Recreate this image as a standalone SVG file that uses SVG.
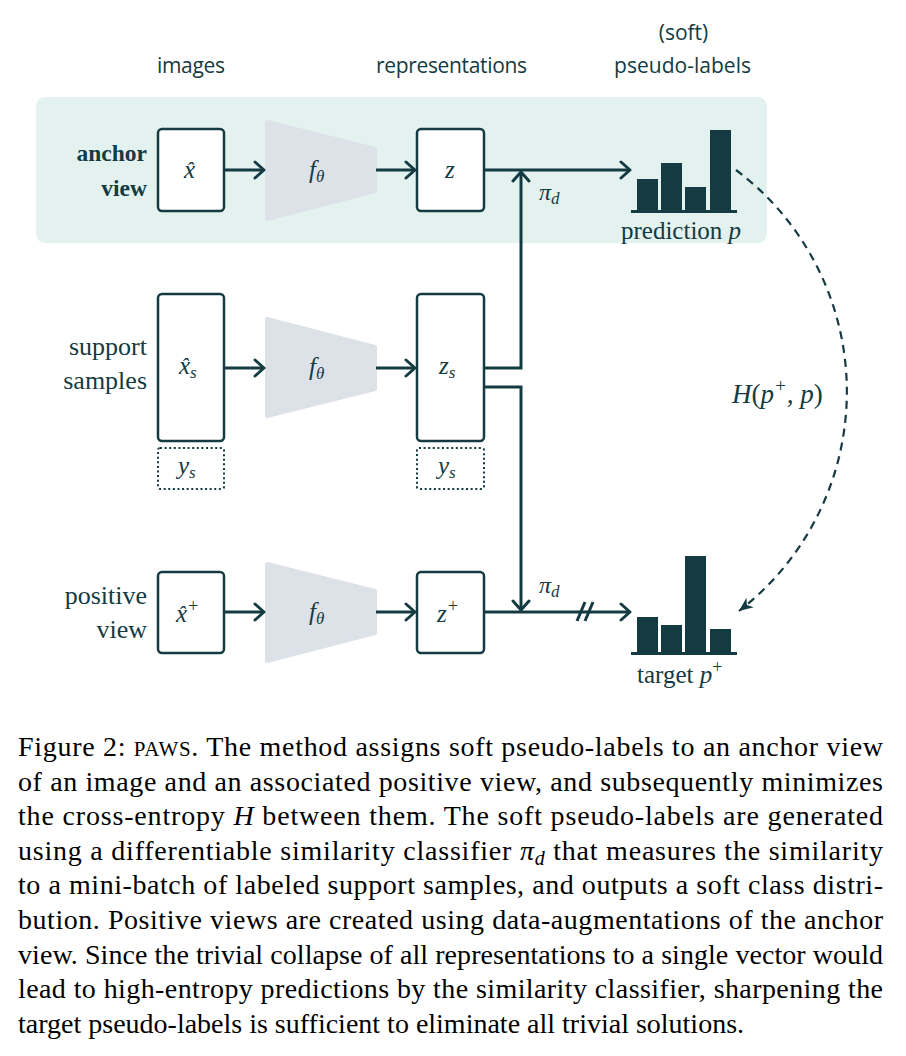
<svg xmlns="http://www.w3.org/2000/svg" width="906" height="1056" viewBox="0 0 906 1056">
<style>
.box{fill:#fff;stroke:#143a42;stroke-width:2.5}
.dot{fill:none;stroke:#143a42;stroke-width:2;stroke-dasharray:2 2.6}
.trap{fill:#dde1e8;stroke:#dde1e8;stroke-width:4;stroke-linejoin:round}
.ln{fill:none;stroke:#143a42;stroke-width:3}
.arr{fill:none;stroke:#143a42;stroke-width:3;marker-end:url(#chev)}
.hdr{font-family:"Open Sans","Lato",sans-serif;font-size:21px;fill:#143a42;text-anchor:middle}
.lbl{font-family:"Liberation Serif",serif;font-size:26px;fill:#143a42;text-anchor:end}
.mi{font-family:"Liberation Serif",serif;font-style:italic;font-size:25px;fill:#143a42}
.rm{font-family:"Liberation Serif",serif;font-size:25px;fill:#143a42}
.cap{font-family:"Liberation Serif",serif;font-size:28px;fill:#000}
.bar{fill:#143a42}
</style>
<defs>
<marker id="chev" markerUnits="userSpaceOnUse" markerWidth="20" markerHeight="20" viewBox="-12 -10 14 20" refX="0" refY="0" orient="auto">
<path d="M-9,-8 L0,0 L-9,8" fill="none" stroke="#143a42" stroke-width="3" stroke-linecap="round" stroke-linejoin="round"/>
</marker>
<marker id="stealth" markerUnits="userSpaceOnUse" markerWidth="20" markerHeight="20" viewBox="-16 -10 18 20" refX="0" refY="0" orient="auto">
<path d="M0,0 L-14,-6 L-10,0 L-14,6 Z" fill="#143a42"/>
</marker>
</defs>

<rect id="anchor-panel" x="36" y="97" width="731" height="146" rx="9" fill="#e3f2ef"/>

<g id="headers">
<text class="hdr" x="191" y="73" textLength="68">images</text>
<text class="hdr" x="451.5" y="73" textLength="151">representations</text>
<text class="hdr" x="683.5" y="40">(soft)</text>
<text class="hdr" x="682.5" y="73" textLength="137">pseudo-labels</text>
</g>

<g id="row-labels">
<text class="lbl" x="147" y="161" style="font-weight:bold;font-size:23.5px">anchor</text>
<text class="lbl" x="147" y="196" style="font-weight:bold;font-size:23.5px">view</text>
<text class="lbl" x="147" y="355">support</text>
<text class="lbl" x="147" y="389">samples</text>
<text class="lbl" x="147" y="604">positive</text>
<text class="lbl" x="147" y="638">view</text>
</g>

<g id="node-x-anchor">
<rect class="box" x="158" y="129" width="66" height="82" rx="4"/>
<text class="mi" x="184" y="178">x</text><text class="mi" x="186" y="177" style="font-size:22px">ˆ</text>
</g>
<g id="node-f-anchor">
<path class="trap" d="M267,122 L375,149 L375,191 L267,219 Z"/>
<text class="mi" x="309" y="178">f<tspan font-size="17" dy="4">θ</tspan></text>
</g>
<g id="node-z-anchor">
<rect class="box" x="417" y="129" width="67" height="82" rx="4"/>
<text class="mi" x="445" y="178">z</text>
</g>

<g id="node-x-support">
<rect class="box" x="158" y="294" width="66" height="147" rx="4"/>
<text class="mi" x="179" y="374">x<tspan font-size="17" dy="4">s</tspan></text><text class="mi" x="181" y="373" style="font-size:22px">ˆ</text>
</g>
<g id="node-y-support-1">
<rect class="dot" x="158" y="448" width="66" height="41" rx="2"/>
<text class="mi" x="178" y="474">y<tspan font-size="17" dy="4">s</tspan></text>
</g>
<g id="node-f-support">
<path class="trap" d="M267,319 L375,347 L375,389 L267,416 Z"/>
<text class="mi" x="309" y="375">f<tspan font-size="17" dy="4">θ</tspan></text>
</g>
<g id="node-z-support">
<rect class="box" x="417" y="294" width="67" height="147" rx="4"/>
<text class="mi" x="439" y="374">z<tspan font-size="17" dy="4">s</tspan></text>
</g>
<g id="node-y-support-2">
<rect class="dot" x="417" y="448" width="67" height="41" rx="2"/>
<text class="mi" x="438" y="474">y<tspan font-size="17" dy="4">s</tspan></text>
</g>

<g id="node-x-positive">
<rect class="box" x="158" y="572" width="66" height="81" rx="4"/>
<text class="mi" x="176" y="622">x<tspan font-size="18" dy="-10">+</tspan></text><text class="mi" x="178" y="621" style="font-size:22px">ˆ</text>
</g>
<g id="node-f-positive">
<path class="trap" d="M267,564 L375,591 L375,633 L267,661 Z"/>
<text class="mi" x="309" y="620">f<tspan font-size="17" dy="4">θ</tspan></text>
</g>
<g id="node-z-positive">
<rect class="box" x="417" y="572" width="67" height="81" rx="4"/>
<text class="mi" x="437" y="622">z<tspan font-size="18" dy="-10">+</tspan></text>
</g>

<g id="node-prediction">
<rect class="bar" x="637" y="179" width="21" height="32"/>
<rect class="bar" x="661" y="163" width="21" height="48"/>
<rect class="bar" x="685" y="187" width="21" height="24"/>
<rect class="bar" x="710" y="130" width="21" height="81"/>
<rect class="bar" x="631" y="210" width="106" height="3"/>
<text class="rm" x="621" y="239">prediction <tspan font-style="italic">p</tspan></text>
</g>

<g id="node-target">
<rect class="bar" x="637" y="617" width="21" height="36"/>
<rect class="bar" x="661" y="625" width="21" height="28"/>
<rect class="bar" x="685" y="556" width="21" height="97"/>
<rect class="bar" x="710" y="629" width="21" height="24"/>
<rect class="bar" x="631" y="652" width="106" height="3"/>
<text class="rm" x="637" y="683">target <tspan font-style="italic">p</tspan><tspan font-size="18" dy="-10">+</tspan></text>
</g>

<g id="connectors">
<line class="arr" x1="224" y1="170" x2="264" y2="170"/>
<line class="arr" x1="376" y1="170" x2="415" y2="170"/>
<line class="arr" x1="484" y1="170" x2="630" y2="170"/>
<line class="arr" x1="224" y1="368" x2="264" y2="368"/>
<line class="arr" x1="376" y1="368" x2="415" y2="368"/>
<line class="arr" x1="224" y1="612" x2="264" y2="612"/>
<line class="arr" x1="376" y1="612" x2="415" y2="612"/>
<line class="arr" x1="484" y1="612" x2="630" y2="612"/>
<path class="arr" d="M484,368 L521,368 L521,172"/>
<path class="arr" d="M484,387 L521,387 L521,610"/>
<line class="ln" x1="577" y1="621" x2="585" y2="602" stroke-width="2"/>
<line class="ln" x1="585" y1="621" x2="593" y2="602" stroke-width="2"/>
<path d="M736,170 A277,277 0 0 1 739,611" fill="none" stroke="#143a42" stroke-width="2.2" stroke-dasharray="8 6" marker-end="url(#stealth)"/>
<text class="mi" x="539" y="200" style="font-size:24px">π<tspan font-size="17" dy="4">d</tspan></text>
<text class="mi" x="539" y="593" style="font-size:24px">π<tspan font-size="17" dy="4">d</tspan></text>
<text class="mi" x="732" y="403" style="font-size:27px">H<tspan font-style="normal">(</tspan>p<tspan font-size="19" dy="-11">+</tspan><tspan dy="11">, p</tspan><tspan font-style="normal">)</tspan></text>
</g>

<g id="caption">
<text class="cap" x="18" y="756" textLength="865">Figure 2: <tspan font-size="21">PAWS</tspan>.  The method assigns soft pseudo-labels to an anchor view</text>
<text class="cap" x="18" y="791" textLength="865">of an image and an associated positive view, and subsequently minimizes</text>
<text class="cap" x="18" y="825" textLength="865">the cross-entropy <tspan font-style="italic">H</tspan> between them.  The soft pseudo-labels are generated</text>
<text class="cap" x="18" y="860" textLength="865">using a differentiable similarity classifier <tspan font-style="italic">π</tspan><tspan font-style="italic" font-size="20" dy="5">d</tspan><tspan dy="-5"> that measures the similarity</tspan></text>
<text class="cap" x="18" y="894" textLength="865">to a mini-batch of labeled support samples, and outputs a soft class distri-</text>
<text class="cap" x="18" y="929" textLength="865">bution.  Positive views are created using data-augmentations of the anchor</text>
<text class="cap" x="18" y="964" textLength="865">view. Since the trivial collapse of all representations to a single vector would</text>
<text class="cap" x="18" y="998" textLength="865">lead to high-entropy predictions by the similarity classifier, sharpening the</text>
<text class="cap" x="18" y="1033">target pseudo-labels is sufficient to eliminate all trivial solutions.</text>
</g>
</svg>
